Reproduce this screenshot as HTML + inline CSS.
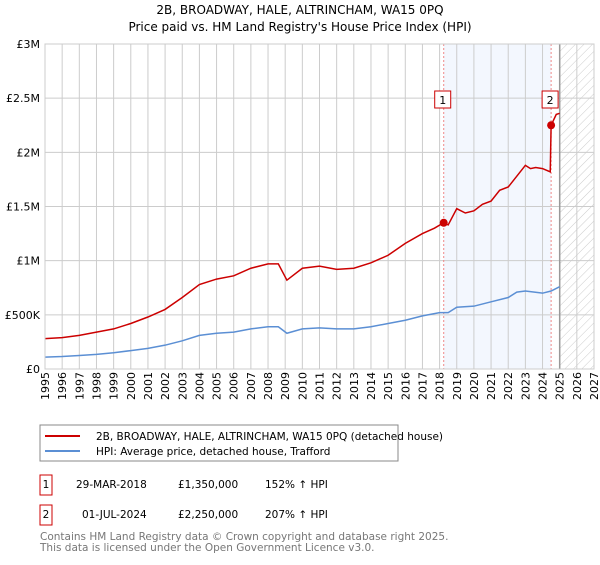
<!DOCTYPE html>
<html><head><meta charset="utf-8"><style>
body{margin:0;background:#fff;font-family:"Liberation Sans","DejaVu Sans",sans-serif;}
</style></head><body>
<svg id="c" width="600" height="560" xmlns="http://www.w3.org/2000/svg" font-family="DejaVu Sans, Liberation Sans, sans-serif">
<defs><pattern id="hatch" width="6" height="6" patternUnits="userSpaceOnUse" patternTransform="rotate(45)"><line x1="0" y1="0" x2="0" y2="6" stroke="#ccc" stroke-width="1"/></pattern></defs>
<text x="300" y="14" text-anchor="middle" font-size="12">2B, BROADWAY, HALE, ALTRINCHAM, WA15 0PQ</text>
<text x="300" y="31" text-anchor="middle" font-size="12">Price paid vs. HM Land Registry's House Price Index (HPI)</text>
<g id="plot"></g>
<rect x="40" y="425" width="358" height="36" fill="#fff" stroke="#888"/>
<line x1="45" y1="436" x2="80" y2="436" stroke="#cc0000" stroke-width="2"/>
<text x="96" y="440" font-size="10.5">2B, BROADWAY, HALE, ALTRINCHAM, WA15 0PQ (detached house)</text>
<line x1="45" y1="451" x2="80" y2="451" stroke="#5b8fd4" stroke-width="2"/>
<text x="96" y="455" font-size="10.5">HPI: Average price, detached house, Trafford</text>
<rect x="40" y="475" width="12" height="20" fill="#fff" stroke="#cc0000"/>
<text x="46" y="488" font-size="10.5" text-anchor="middle">1</text>
<text x="76" y="488" font-size="10.5">29-MAR-2018</text>
<text x="178" y="488" font-size="10.5">£1,350,000</text>
<text x="265" y="488" font-size="10.5">152% ↑ HPI</text>
<rect x="40" y="505" width="12" height="20" fill="#fff" stroke="#cc0000"/>
<text x="46" y="518" font-size="10.5" text-anchor="middle">2</text>
<text x="82" y="518" font-size="10.5">01-JUL-2024</text>
<text x="178" y="518" font-size="10.5">£2,250,000</text>
<text x="265" y="518" font-size="10.5">207% ↑ HPI</text>
<text x="40" y="540" font-size="10.5" fill="#777">Contains HM Land Registry data © Crown copyright and database right 2025.</text>
<text x="40" y="551" font-size="10.5" fill="#777">This data is licensed under the Open Government Licence v3.0.</text>
</svg>
<script>
const redYears=[1995,1996,1997,1998,1999,2000,2001,2002,2003,2004,2005,2006,2007,2008,2008.6,2009.1,2010,2011,2012,2013,2014,2015,2016,2017,2017.7,2018.24,2018.5,2019,2019.5,2020,2020.5,2021,2021.5,2022,2022.5,2023,2023.3,2023.6,2024,2024.45,2024.5,2024.8,2025];
const redVals=[0.28,0.29,0.31,0.34,0.37,0.42,0.48,0.55,0.66,0.78,0.83,0.86,0.93,0.97,0.97,0.82,0.93,0.95,0.92,0.93,0.98,1.05,1.16,1.25,1.30,1.35,1.33,1.48,1.44,1.46,1.52,1.55,1.65,1.68,1.78,1.88,1.85,1.86,1.85,1.82,2.25,2.35,2.36];
const blueYears=[1995,1996,1997,1998,1999,2000,2001,2002,2003,2004,2005,2006,2007,2008,2008.6,2009.1,2010,2011,2012,2013,2014,2015,2016,2017,2018,2018.5,2019,2020,2021,2022,2022.5,2023,2024,2024.5,2025];
const blueVals=[0.11,0.115,0.125,0.135,0.15,0.17,0.19,0.22,0.26,0.31,0.33,0.34,0.37,0.39,0.39,0.33,0.37,0.38,0.37,0.37,0.39,0.42,0.45,0.49,0.52,0.52,0.57,0.58,0.62,0.66,0.71,0.72,0.70,0.72,0.76];
const yTicks=[0,0.5,1,1.5,2,2.5,3];
const yLabels=["£0","£500K","£1M","£1.5M","£2M","£2.5M","£3M"];
const saleYears=[2018.24,2024.5];
const saleVals=[1.35,2.25];
const L=45,R=594,T=44,B=369,X0=1995,X1=2027;
const x=v=>L+(v-X0)/(X1-X0)*(R-L);
const y=v=>B-v/3*(B-T);
const g=document.getElementById('plot');
const NS='http://www.w3.org/2000/svg';
function mk(t,a){const e=document.createElementNS(NS,t);for(const k in a)e.setAttribute(k,a[k]);g.appendChild(e);return e;}
let e=mk('rect',{x:x(saleYears[0]),y:T,width:x(saleYears[1])-x(saleYears[0]),height:B-T,fill:'#eef3fd',opacity:0.7});


e=mk('rect',{x:x(2025),y:T,width:R-x(2025),height:B-T,fill:'url(#hatch)'});


for(let yr=X0;yr<=X1;yr++){
 e=mk('line',{x1:x(yr),x2:x(yr),y1:T,y2:B,stroke:'#ccc','stroke-width':1});
 
 
 const tx=x(yr)+4,ty=B+3;
 e=mk('text',{x:tx,y:ty,'font-size':11,'text-anchor':'end',transform:'rotate(-90 '+tx+' '+ty+')'});e.textContent=yr;
 
 
}
yTicks.forEach((v,i)=>{
 e=mk('line',{x1:L,x2:R,y1:y(v),y2:y(v),stroke:'#ccc','stroke-width':1});
 
 
 e=mk('text',{x:40,y:y(v)+4,'font-size':11,'text-anchor':'end'});e.textContent=yLabels[i];
 
 
});
e=mk('line',{x1:x(2025),x2:x(2025),y1:T,y2:B,stroke:'#999','stroke-width':1.5});


saleYears.forEach((s,i)=>{
 e=mk('line',{x1:x(s),x2:x(s),y1:T,y2:B,stroke:'#e88','stroke-width':1,'stroke-dasharray':'2,2'});
 
 
 e=mk('rect',{x:x(s)-9,y:91,width:16,height:17,fill:'#fff',stroke:'#cc0000'});
 
 
 e=mk('text',{x:x(s)-1,y:104,'font-size':11,'text-anchor':'middle'});e.textContent=i+1;
 
 
});
e=mk('polyline',{points:blueYears.map((v,i)=>x(v)+','+y(blueVals[i])).join(' '),fill:'none',stroke:'#5b8fd4','stroke-width':1.5});


e=mk('polyline',{points:redYears.map((v,i)=>x(v)+','+y(redVals[i])).join(' '),fill:'none',stroke:'#cc0000','stroke-width':1.5});


saleYears.forEach((s,i)=>{
 e=mk('circle',{cx:x(s),cy:y(saleVals[i]),r:4,fill:'#cc0000'});
 
 
});
e=mk('rect',{x:L,y:T,width:R-L,height:B-T,fill:'none',stroke:'#ccc'});


</script>
</body></html>
